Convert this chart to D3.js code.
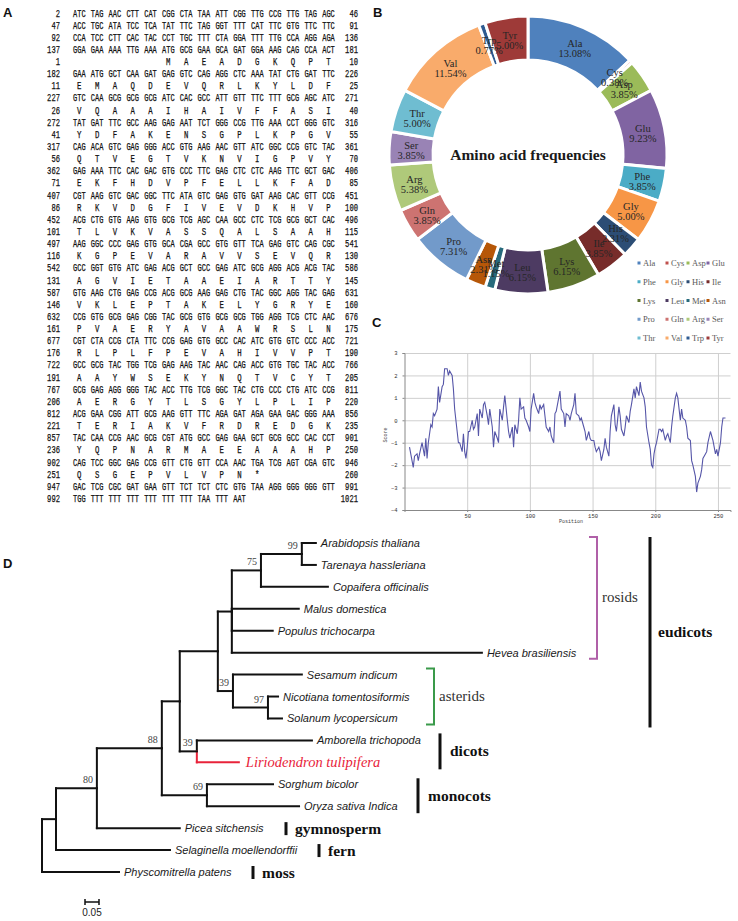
<!DOCTYPE html>
<html><head><meta charset="utf-8">
<script src="https://cdn.jsdelivr.net/npm/d3@7"></script>
<style>body{margin:0;background:#fff}svg{display:block}</style>
</head><body>
<svg id="fig" width="738" height="921"></svg>
<script>
// ================= DATA =================
// Panel A: nucleotide rows
const ntStarts = [2,47,92,137,182,227,272,317,362,407,452,497,542,587,632,677,722,767,812,857,902,947,992];
const ntSeqs = [
"ATC TAG AAC CTT CAT CGG CTA TAA ATT CGG TTG CCG TTG TAG AGC",
"ACC TGC ATA TCC TCA TAT TTC TAG GGT TTT CAT TTC GTG TTC TTC",
"CCA TCC CTT CAC TAC CCT TGC TTT CTA GGA TTT TTG CCA AGG AGA",
"GGA GAA AAA TTG AAA ATG GCG GAA GCA GAT GGA AAG CAG CCA ACT",
"GAA ATG GCT CAA GAT GAG GTC CAG AGG CTC AAA TAT CTG GAT TTC",
"GTC CAA GCG GCG GCG ATC CAC GCC ATT GTT TTC TTT GCG AGC ATC",
"TAT GAT TTC GCC AAG GAG AAT TCT GGG CCG TTG AAA CCT GGG GTC",
"CAG ACA GTC GAG GGG ACC GTG AAG AAC GTT ATC GGC CCG GTC TAC",
"GAG AAA TTC CAC GAC GTG CCC TTC GAG CTC CTC AAG TTC GCT GAC",
"CGT AAG GTC GAC GGC TTC ATA GTC GAG GTG GAT AAG CAC GTT CCG",
"ACG CTG GTG AAG GTG GCG TCG AGC CAA GCC CTC TCG GCG GCT CAC",
"AAG GGC CCC GAG GTG GCA CGA GCC GTG GTT TCA GAG GTC CAG CGC",
"GCC GGT GTG ATC GAG ACG GCT GCC GAG ATC GCG AGG ACG ACG TAC",
"GTG AAG CTG GAG CCG ACG GCG AAG GAG CTG TAC GGC AGG TAC GAG",
"CCG GTG GCG GAG CGG TAC GCG GTG GCG GCG TGG AGG TCG CTC AAC",
"CGT CTA CCG CTA TTC CCG GAG GTG GCC CAC ATC GTG GTC CCC ACC",
"GCC GCG TAC TGG TCG GAG AAG TAC AAC CAG ACC GTG TGC TAC ACC",
"GCG GAG AGG GGG TAC ACC TTG TCG GGC TAC CTG CCC CTG ATC CCG",
"ACG GAA CGG ATT GCG AAG GTT TTC AGA GAT AGA GAA GAC GGG AAA",
"TAC CAA CCG AAC GCG CGT ATG GCC GAG GAA GCT GCG GCC CAC CCT",
"CAG TCC GGC GAG CCG GTT CTG GTT CCA AAC TGA TCG AGT CGA GTC",
"GAC TCG CGC GAT GAA GTT TCT TCT CTC GTG TAA AGG GGG GGG GTT",
"TGG TTT TTT TTT TTT TTT TTT TAA TTT AAT"];
const ntEnds = [46,91,136,181,226,271,316,361,406,451,496,541,586,631,676,721,766,811,856,901,946,991,1021];
// Panel A: amino-acid rows
const aaStarts = [1,11,26,41,56,71,86,101,116,131,146,161,176,191,206,221,236,251];
const aaSeqs = [
"M A E A D G K Q P T",
"E M A Q D E V Q R L K Y L D F",
"V Q A A A I H A I V F F A S I",
"Y D F A K E N S G P L K P G V",
"Q T V E G T V K N V I G P V Y",
"E K F H D V P F E L L K F A D",
"R K V D G F I V E V D K H V P",
"T L V K V A S S Q A L S A A H",
"K G P E V A R A V V S E V Q R",
"A G V I E T A A E I A R T T Y",
"V K L E P T A K E L Y G R Y E",
"P V A E R Y A V A A W R S L N",
"R L P L F P E V A H I V V P T",
"A A Y W S E K Y N Q T V C Y T",
"A E R G Y T L S G Y L P L I P",
"T E R I A K V F R D R E D G K",
"Y Q P N A R M A E E A A A H P",
"Q S G E P V L V P N *"];
const aaEnds = [10,25,40,55,70,85,100,115,130,145,160,175,190,205,220,235,250,260];
const aaCodonOffset = [5,0,0,0,0,0,0,0,0,0,0,0,0,0,0,0,0,0];

// Panel B: amino-acid composition
const aaNames = ["Ala","Cys","Asp","Glu","Phe","Gly","His","Ile","Lys","Leu","Met","Asn","Pro","Gln","Arg","Ser","Thr","Val","Trp","Tyr"];
const aaFreq  = [13.08,0.38,3.85,9.23,3.85,5.00,2.31,3.85,6.15,6.15,1.15,2.31,7.31,3.85,5.38,3.85,5.00,11.54,0.77,5.00];
const aaColors = ["#4F81BD","#C0504D","#9BBB59","#8064A2","#4BACC6","#F79646","#2C4D75","#772C2A","#5F7530","#4D3B62","#276A7C","#B65708","#729ACA","#CD7371","#AFC97A","#9983B5","#6FBDD1","#F9AB6B","#2F5B91","#9E3A38"];

// Panel C: hydropathy profile
const hydroPos = [4,7,8,10,11,12,14,16,17,18,19,20,21,22,23,24,26,27,28,30,31,32,34,35,36,38,39,40,42,43,44,46,47,48,49,50,51,52,54,55,56,58,59,60,62,63,64,66,67,68,70,71,72,74,75,76,78,79,80,82,83,84,86,87,88,90,91,92,93,95,96,97,99,100,101,103,104,105,107,108,109,111,112,113,115,116,117,119,120,121,123,124,125,127,128,129,131,132,133,135,136,137,139,140,141,143,144,145,147,148,149,151,152,153,155,156,157,159,160,161,163,164,165,167,168,169,171,172,173,175,176,177,179,180,181,183,184,185,187,188,189,191,192,193,195,196,197,198,199,200,201,203,204,205,206,208,209,210,212,213,214,216,217,218,219,220,221,222,224,225,226,228,229,230,232,233,234,236,237,238,240,241,242,244,245,246,248,249,250,252,253,254,256];
const hydroScore = [-1.2,-2.1,-1.6,-1.5,-1.8,-1.5,-1.0,-1.6,-0.8,-1.7,-1.0,-0.6,-0.2,-0.3,0.3,0.2,0.5,1.5,0.8,1.5,1.6,2.3,2.3,2.0,2.2,2.0,1.4,0.5,-0.5,-1.0,-1.0,-1.4,-0.6,-1.4,-1.7,-1.2,-0.5,-0.5,0.0,-0.4,-0.3,0.3,-0.7,0.5,0.1,0.7,0.8,0.2,-0.2,0.5,-0.3,-1.2,-0.5,-0.8,-1.0,0.5,0.0,0.6,1.1,0.0,-0.5,-0.8,-0.3,-1.2,-0.2,-0.6,0.0,1.0,0.5,0.6,0.1,0.0,-0.3,-0.5,0.5,1.2,0.8,0.6,0.3,0.7,0.5,0.7,0.2,-0.3,-0.5,-0.3,-0.7,-1.0,0.3,0.4,1.0,1.3,0.5,0.3,-0.3,0.3,0.2,0.0,0.3,0.7,1.2,0.3,0.2,0.0,0.1,-0.3,-0.5,-0.9,-0.5,-0.8,-0.9,-0.9,-1.2,-1.4,-1.2,-1.4,-1.8,-1.3,-0.8,-1.2,-1.6,-0.5,0.2,0.7,-0.2,-0.5,0.6,0.2,-0.4,-0.7,-0.3,0.2,-0.1,0.4,0.7,1.4,1.0,1.5,1.1,1.7,1.3,1.0,0.6,-0.3,-1.0,-1.3,-2.0,-2.1,-1.5,-1.2,-1.0,-0.4,-0.4,-0.5,-0.4,-0.9,-0.7,-0.6,-1.0,-0.3,0.2,1.0,1.2,1.0,0.5,0.0,0.5,0.1,0.0,-0.3,-0.8,-0.9,-1.8,-2.0,-2.5,-3.2,-2.8,-2.5,-2.2,-1.7,-1.5,-1.4,-1.0,-0.5,-0.7,-0.9,-1.5,-1.3,-1.6,-1.0,-0.3,0.1,0.1];
const hydroYTicks = [-4,-3,-2,-1,0,1,2,3];
const hydroXTicks = [50,100,150,200,250];

// Panel D: phylogeny (branch lengths in substitutions/site)
const treeData = {name:"root", len:0, children:[
  {name:"n1", len:0.05, children:[
    {name:"n80", len:0.146, boot:"80", children:[
      {name:"n88", len:0.232, boot:"88", children:[
        {name:"nA", len:0.064, children:[
          {name:"eud", len:0.136, children:[
            {name:"ros", len:0.05, children:[
              {name:"n75", len:0.104, boot:"75", children:[
                {name:"n99", len:0.146, boot:"99", children:[
                  {name:"Arabidopsis thaliana", len:0.05},
                  {name:"Tarenaya hassleriana", len:0.05}]},
                {name:"Copaifera officinalis", len:0.239}]},
              {name:"Malus domestica", len:0.239},
              {name:"Populus trichocarpa", len:0.146},
              {name:"Hevea brasiliensis", len:0.893}]},
            {name:"ast", len:0.054, boot:"39", children:[
              {name:"Sesamum indicum", len:0.246},
              {name:"n97", len:0.125, boot:"97", children:[
                {name:"Nicotiana tomentosiformis", len:0.036},
                {name:"Solanum lycopersicum", len:0.05}]}]}]},
          {name:"n39", len:0.061, boot:"39", children:[
            {name:"Amborella trichopoda", len:0.411},
            {name:"Liriodendron tulipifera", len:0.15, focus:true}]}]},
        {name:"n69", len:0.161, boot:"69", children:[
          {name:"Sorghum bicolor", len:0.236},
          {name:"Oryza sativa Indica", len:0.329}]}]},
      {name:"Picea sitchensis", len:0.296}]},
    {name:"Selaginella moellendorffii", len:0.407}]},
  {name:"Physcomitrella patens", len:0.275}]};
const cladeNames = ["rosids","asterids","eudicots","dicots","monocots","gymnosperm","fern","moss"];
const cladeFirst = ["Arabidopsis thaliana","Sesamum indicum","Arabidopsis thaliana","Amborella trichopoda","Sorghum bicolor","Picea sitchensis","Selaginella moellendorffii","Physcomitrella patens"];
const cladeLast  = ["Hevea brasiliensis","Solanum lycopersicum","Solanum lycopersicum","Liriodendron tulipifera","Oryza sativa Indica","Picea sitchensis","Selaginella moellendorffii","Physcomitrella patens"];

// ================= DRAW =================
const svg = d3.select("#fig");
const panelLabel = (t,x,y)=>svg.append("text").attr("x",x).attr("y",y).text(t)
  .attr("font-family","Liberation Sans, Arial").attr("font-weight","bold").attr("font-size",13).attr("fill","#111");
panelLabel("A",3,17); panelLabel("B",373,17); panelLabel("C",372,327); panelLabel("D",3,568);

// ---- Panel A
(function(){
  const rows = [];
  for (let i=0;i<4;i++) rows.push({t:"nt",i});
  rows.push({t:"aa",i:0});
  for (let k=1;k<aaStarts.length;k++){ rows.push({t:"nt",i:k+3}); rows.push({t:"aa",i:k}); }
  rows.push({t:"nt",i:21}); rows.push({t:"nt",i:22});
  const rowY = d3.scaleLinear().domain([0,rows.length-1]).range([16.5,502]);
  const codonX = d3.scaleLinear().domain([0,14]).range([79.3,328.5]);
  const g = svg.append("g").attr("font-family","Liberation Mono, monospace").attr("font-size",10.5)
     .attr("fill","#111").attr("stroke","#111").attr("stroke-width",0.25);
  const charW = 4.3;
  const num = (v,x,y)=>g.append("text").attr("x",x).attr("y",y).attr("text-anchor","end")
     .attr("textLength",String(v).length*charW).attr("lengthAdjust","spacingAndGlyphs").text(v);
  rows.forEach((r,ri)=>{
    const y = rowY(ri);
    if (r.t==="nt"){
      num(ntStarts[r.i],60,y); num(ntEnds[r.i],358,y);
      ntSeqs[r.i].split(" ").forEach((c,ci)=>{
        g.append("text").attr("x",codonX(ci)).attr("y",y).attr("text-anchor","middle")
         .attr("textLength",12.6).attr("lengthAdjust","spacingAndGlyphs").text(c);
      });
    } else {
      num(aaStarts[r.i],60,y); num(aaEnds[r.i],358,y);
      aaSeqs[r.i].split(" ").forEach((c,ci)=>{
        g.append("text").attr("x",codonX(ci+aaCodonOffset[r.i])).attr("y",y).attr("text-anchor","middle")
         .attr("textLength",4.4).attr("lengthAdjust","spacingAndGlyphs").text(c);
      });
    }
  });
})();

// ---- Panel B
(function(){
  const cx=528, cy=155, rIn=95, rOut=139;
  const g = svg.append("g").attr("transform",`translate(${cx},${cy})`);
  const pie = d3.pie().sort(null).value(d=>d)(aaFreq);
  const arc = d3.arc().innerRadius(rIn).outerRadius(rOut);
  g.selectAll("path").data(pie).join("path").attr("d",arc)
    .attr("fill",(d,i)=>aaColors[i]).attr("stroke","#fff").attr("stroke-width",3);
  const lab = d3.arc().innerRadius(117).outerRadius(117);
  const lg = g.append("g").attr("font-family","Liberation Serif, Times New Roman, serif").attr("font-size",10.5).attr("fill","#262626").attr("text-anchor","middle");
  pie.forEach((d,i)=>{
    const [x,y]=lab.centroid(d);
    lg.append("text").attr("x",x).attr("y",y-0.5).text(aaNames[i]);
    lg.append("text").attr("x",x).attr("y",y+9.5).text(aaFreq[i].toFixed(2)+"%");
  });
  g.append("text").attr("x",0).attr("y",5).attr("text-anchor","middle")
   .attr("font-family","Liberation Serif, Times New Roman, serif").attr("font-weight","bold").attr("font-size",15.5)
   .attr("fill","#1a1a1a").text("Amino acid frequencies");
  // legend
  const rowY = d3.scalePoint().domain([0,1,2,3,4]).range([263,338]);
  const leg = svg.append("g").attr("font-family","Liberation Serif, Times New Roman, serif").attr("font-size",8.5).attr("fill","#595959");
  const colOff=[0,28,49,69];
  aaNames.forEach((n,i)=>{
    const x = 639+colOff[i%4], y=rowY(Math.floor(i/4));
    leg.append("rect").attr("x",x-1.5).attr("y",y-1.5).attr("width",3).attr("height",3).attr("fill",aaColors[i]);
    leg.append("text").attr("x",x+4).attr("y",y+3).text(n);
  });
})();

// ---- Panel C
(function(){
  const x = d3.scaleLinear().domain([0,260]).range([404.5,730.5]);
  const y = d3.scaleLinear().domain([-4,3]).range([510,353]);
  const g = svg.append("g");
  g.append("g").attr("transform","translate(0,353)")
    .call(d3.axisBottom(x).tickValues(hydroXTicks).tickSize(157).tickFormat(""))
    .call(s=>{s.select(".domain").remove(); s.selectAll("line").attr("stroke","#cfcfcf");});
  g.append("g").attr("transform","translate(404.5,0)")
    .call(d3.axisRight(y).tickValues(hydroYTicks).tickSize(326).tickFormat(""))
    .call(s=>{s.select(".domain").remove(); s.selectAll("line").attr("stroke","#cfcfcf");});
  const ax = g.append("g").attr("transform","translate(404.5,0)")
    .call(d3.axisLeft(y).tickValues(hydroYTicks).tickSize(2).tickPadding(5).tickFormat(d3.format("d")));
  ax.select(".domain").attr("stroke","#888");
  ax.selectAll("line").attr("stroke","#888");
  ax.selectAll("text").attr("font-family","Liberation Mono, monospace").attr("font-size",5.5).attr("fill","#333");
  const bx = g.append("g").attr("transform","translate(0,510)")
    .call(d3.axisBottom(x).tickValues(hydroXTicks).tickSize(2).tickPadding(2).tickFormat(d3.format("d")));
  bx.select(".domain").attr("stroke","#888");
  bx.selectAll("line").attr("stroke","#888");
  bx.selectAll("text").attr("font-family","Liberation Mono, monospace").attr("font-size",5.5).attr("fill","#333");
  g.append("text").attr("transform","translate(387,435) rotate(-90)").attr("text-anchor","middle")
   .attr("font-family","Liberation Mono, monospace").attr("font-size",5).attr("fill","#444").text("Score");
  g.append("text").attr("x",571).attr("y",523).attr("text-anchor","middle")
   .attr("font-family","Liberation Mono, monospace").attr("font-size",5).attr("fill","#444").text("Position");
  const line = d3.line().x((d,i)=>x(hydroPos[i])).y(d=>y(d));
  g.append("path").attr("d",line(hydroScore)).attr("fill","none").attr("stroke","#5656a8").attr("stroke-width",1.1);
})();

// ---- Panel D
(function(){
  const root = d3.hierarchy(treeData);
  const xs = d3.scaleLinear().domain([0,0.05]).range([42,56]);
  root.eachBefore(n=>{ n.dist = (n.parent?n.parent.dist:0) + n.data.len; });
  const leaves = root.leaves();
  const ys = d3.scalePoint().domain(leaves.map(l=>l.data.name)).range([543,872]);
  root.eachAfter(n=>{ n.py = n.children ? (n.children[0].py + n.children[n.children.length-1].py)/2 : ys(n.data.name); n.px = xs(n.dist); });
  const g = svg.append("g");
  const red = "#e8233a";
  root.descendants().forEach(n=>{
    if(!n.parent) return;
    const col = n.data.focus?red:"#111";
    g.append("line").attr("x1",n.parent.px).attr("x2",n.parent.px).attr("y1",n.parent.py).attr("y2",n.py)
      .attr("stroke",col).attr("stroke-width",2).attr("stroke-linecap","square");
  });
  root.descendants().forEach(n=>{
    if(!n.parent) return;
    const col = n.data.focus?red:"#111";
    g.append("line").attr("x1",n.parent.px).attr("x2",n.px).attr("y1",n.py).attr("y2",n.py)
      .attr("stroke",col).attr("stroke-width",2).attr("stroke-linecap","square");
  });
  leaves.forEach(l=>{
    const t = g.append("text").attr("x",l.px+5).attr("y",l.py+4).text(l.data.name);
    if(l.data.focus) t.attr("font-family","Liberation Serif, Times New Roman, serif").attr("font-style","italic").attr("font-size",14.5).attr("fill",red).attr("y",l.py+5).attr("x",l.px+7);
    else t.attr("font-family","Liberation Sans, Arial, sans-serif").attr("font-style","italic").attr("font-size",11).attr("fill","#1a1a1a");
  });
  root.descendants().filter(n=>n.data.boot).forEach(n=>{
    g.append("text").attr("x",n.px-4).attr("y",n.py-5).attr("text-anchor","end")
     .attr("font-family","Liberation Serif, Times New Roman, serif").attr("font-size",10).attr("fill","#444").text(n.data.boot);
  });
  // clade annotations
  const cg = svg.append("g").attr("font-family","Liberation Serif, Times New Roman, serif");
  function bracket(i,x,col,label,lx,ly){
    const y1=ys(cladeFirst[i])-6, y2=ys(cladeLast[i])+6;
    cg.append("path").attr("d",`M${x-8},${y1}H${x}V${y2}H${x-8}`).attr("fill","none").attr("stroke",col).attr("stroke-width",2);
    cg.append("text").attr("x",lx).attr("y",ly).attr("font-size",15).attr("fill","#333").text(label);
  }
  bracket(0,597,"#b060a8",cladeNames[0],602,602);
  bracket(1,434,"#3a9a4a",cladeNames[1],439,701);
  function bar(i,x,lx,yOffTop,yOffBot){
    const y1=ys(cladeFirst[i])-yOffTop, y2=ys(cladeLast[i])+yOffBot;
    cg.append("line").attr("x1",x).attr("x2",x).attr("y1",y1).attr("y2",y2).attr("stroke","#111").attr("stroke-width",3);
    cg.append("text").attr("x",lx).attr("y",(y1+y2)/2+5).attr("font-size",15.5).attr("font-weight","bold").attr("fill","#111").text(cladeNames[i]);
  }
  bar(2,650,658,6,9);
  bar(3,440,450,7,7);
  bar(4,418,428,6,7);
  bar(5,286,295,6,7);
  bar(6,319,328,6,7);
  bar(7,253,262,6,7);
  // scale bar
  svg.append("path").attr("d",`M${xs(0.05)+29},899V905M${xs(0.05)+29},902H${xs(0.1)+29}M${xs(0.1)+29},899V905`)
     .attr("stroke","#111").attr("stroke-width",1.5).attr("fill","none");
  svg.append("text").attr("x",92).attr("y",916).attr("text-anchor","middle").attr("font-family","Liberation Sans, Arial").attr("font-size",10).attr("fill","#222").text("0.05");
})();
</script>
</body></html>
